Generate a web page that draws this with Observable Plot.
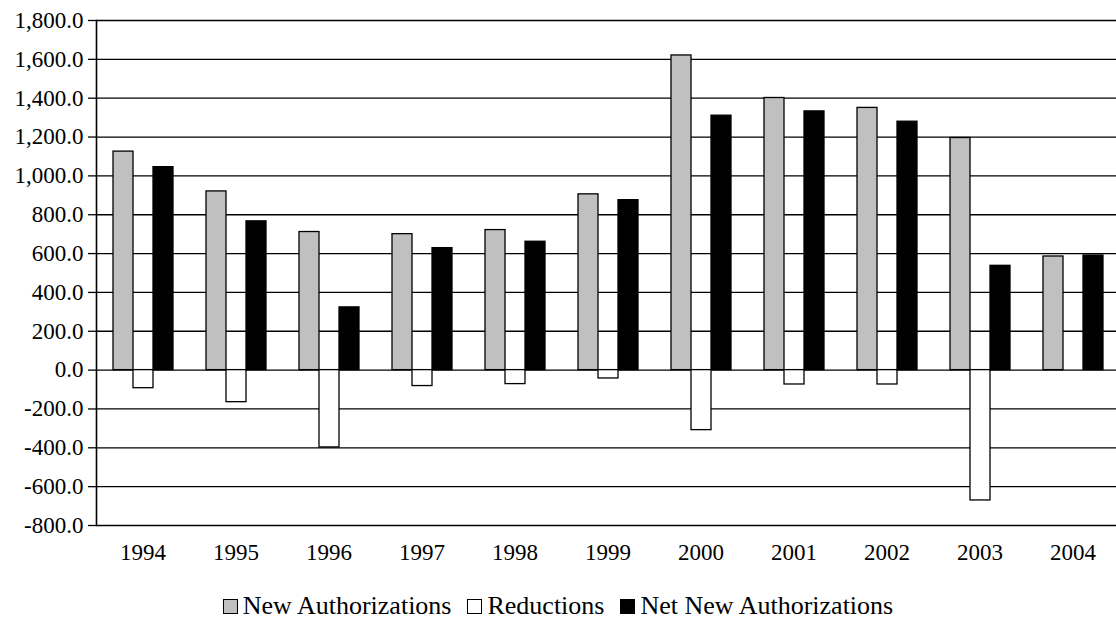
<!DOCTYPE html>
<html>
<head>
<meta charset="utf-8">
<script src="https://cdn.jsdelivr.net/npm/d3@7"></script>
<script src="https://cdn.jsdelivr.net/npm/@observablehq/plot@0.6"></script>
<style>
  html, body { margin: 0; padding: 0; background: #fff; }
  #legend {
    font-family: "Liberation Serif", "DejaVu Serif", serif;
    font-size: 26px; color: #000; text-align: center;
    width: 1116px; margin-top: 1px; line-height: 26px; white-space: nowrap;
  }
  #legend .item { display: inline-block; margin: 0 8px; }
  #legend .sw { display: inline-block; width: 15px; height: 15px; border: 1.5px solid #000; vertical-align: 0px; margin-right: 5px; box-sizing: border-box; }
</style>
</head>
<body>
<div id="chart"></div>
<div id="legend"></div>
<script>
const years = ["1994","1995","1996","1997","1998","1999","2000","2001","2002","2003","2004"];
const seriesNames = ["New Authorizations", "Reductions", "Net New Authorizations"];
const newAuthorizations = [1125, 920, 711, 700, 721, 905, 1620, 1401, 1350, 1195, 585];
const reductions = [-93, -165, -398, -82, -72, -43, -309, -74, -74, -671, 0];
const netNewAuthorizations = [1045, 766, 323, 628, 661, 875, 1310, 1332, 1279, 537, 590];
const yTicks = [-800, -600, -400, -200, 0, 200, 400, 600, 800, 1000, 1200, 1400, 1600, 1800];
const seriesColors = ["#c0c0c0", "#ffffff", "#000000"];

const valuesBySeries = [newAuthorizations, reductions, netNewAuthorizations];
const rows = [];
years.forEach((y, i) => {
  seriesNames.forEach((s, j) => rows.push({year: y, series: s, value: valuesBySeries[j][i]}));
});

const fmt = d => d3.format(",.1f")(d).replace("\u2212", "-");
const FONT = "'Liberation Serif', 'DejaVu Serif', serif";

const chart = Plot.plot({
  width: 1116,
  height: 592,
  marginTop: 20,
  marginBottom: 67,
  marginLeft: 94,
  marginRight: -5,
  style: {fontSize: "23px", fontFamily: FONT, color: "#000", background: "#fff", overflow: "visible"},
  fx: {domain: years, padding: 0, label: null},
  x: {domain: seriesNames, paddingInner: 0, paddingOuter: 0.72, axis: null},
  y: {domain: [-800, 1800], label: null},
  color: {domain: seriesNames, range: seriesColors},
  marks: [
    Plot.gridY(yTicks, {stroke: "#000", strokeOpacity: 1, strokeWidth: 1.3}),
    Plot.barY(rows, {fx: "year", x: "series", y: "value", fill: "series", stroke: "#000", strokeWidth: 1.3}),
    Plot.axisY(yTicks, {tickFormat: fmt, tickSize: 8, tickPadding: 5, stroke: "#000", strokeWidth: 1.3, label: null, fontSize: 23, fontFamily: FONT}),
    Plot.frame({anchor: "left", facetAnchor: "left", stroke: "#000", strokeWidth: 1.6}),
    Plot.axisFx({anchor: "bottom", tickSize: 0, tickPadding: 18, label: null, fontSize: 23, fontFamily: FONT})
  ]
});
document.getElementById("chart").appendChild(chart);

const legend = document.getElementById("legend");
seriesNames.forEach((s, j) => {
  const item = document.createElement("span");
  item.className = "item";
  const sw = document.createElement("span");
  sw.className = "sw";
  sw.style.background = seriesColors[j];
  item.appendChild(sw);
  item.appendChild(document.createTextNode(s));
  legend.appendChild(item);
});
</script>
</body>
</html>
